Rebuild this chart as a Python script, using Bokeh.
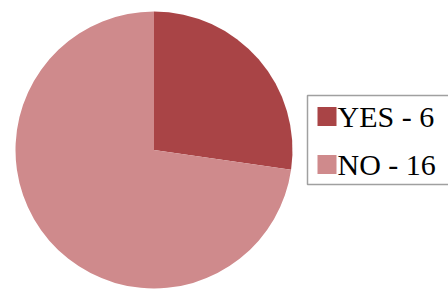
import math
from bokeh.plotting import figure
from bokeh.models import Range1d
from bokeh.core.properties import value
from bokeh.embed import file_html
from bokeh.resources import INLINE

categories = ["YES", "NO"]
values = [6, 16]
colors = ["#A94446", "#CF8A8C"]

total = sum(values)
starts, ends = [], []
acc = 0.0
for v in values:
    a0 = math.pi / 2 - 2 * math.pi * acc / total
    acc += v
    a1 = math.pi / 2 - 2 * math.pi * acc / total
    starts.append(a0)
    ends.append(a1)
labels = [f"{c} - {v}" for c, v in zip(categories, values)]

W, H = 448, 289
p = figure(width=W, height=H, output_backend="svg", toolbar_location=None,
           x_range=Range1d(0, W), y_range=Range1d(-H, 0),
           min_border=0, outline_line_color=None)
p.axis.visible = False
p.grid.visible = False
p.background_fill_color = "white"
p.border_fill_color = "white"

# pie
cx, cy, r = 153.5, -149.5, 138.5
p.wedge(x=[cx] * len(values), y=[cy] * len(values), radius=r,
        start_angle=starts, end_angle=ends, direction="clock",
        fill_color=colors, line_color=None)

# legend (box + swatches + labels)
lx0, ly_top, row_gap = 307, -95, 48
n = len(labels)
box_h = 89
p.quad(left=[lx0], right=[lx0 + 160], top=[ly_top], bottom=[ly_top - box_h],
       fill_color="white", line_color="#a0a0a0", line_width=1.5)
row_y = [ly_top - 21 - i * row_gap for i in range(n)]
p.rect(x=[326.5] * n, y=row_y, width=19, height=19,
       fill_color=colors, line_color=None)
p.text(x=[337] * n, y=row_y, text=labels,
       text_font=value("Liberation Serif"), text_font_size="30px",
       text_color="black", text_baseline="middle", text_align="left")

open("out.html", "w").write(file_html(p, INLINE))
